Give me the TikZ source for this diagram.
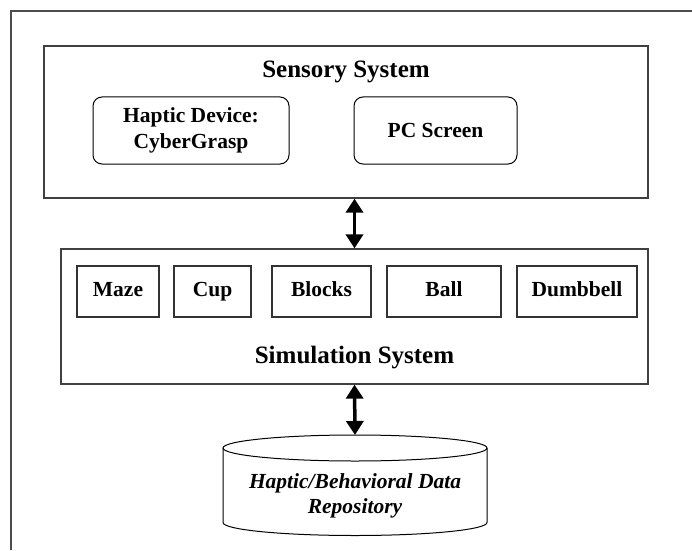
\documentclass[tikz,border=0pt]{standalone}
\usepackage{fontspec}
\setmainfont{Liberation Serif}
\usetikzlibrary{arrows.meta}
\tikzset{
  sysbox/.style={draw=black!75, line width=1.3pt},
  systitle/.style={font=\fontsize{25}{28}\selectfont\bfseries, anchor=base},
  devbox/.style={draw, line width=1pt, rounded corners=9pt, minimum height=67pt,
    align=center, font=\fontsize{21.5}{26}\selectfont\bfseries},
  objbox/.style={draw=black!80, line width=1.1pt, minimum height=51pt, inner sep=0pt,
    text height=15pt, text depth=6pt, font=\fontsize{21.5}{26}\selectfont\bfseries},
  dbtext/.style={align=center, font=\fontsize{21.5}{25}\selectfont\bfseries\itshape},
  link/.style={line width=3.5pt,
    {Triangle[width=17pt,length=14pt]}-{Triangle[width=17pt,length=14pt]}}
}
\begin{document}
\begin{tikzpicture}[x=1pt,y=1pt]
  \useasboundingbox (0,0) rectangle (692,550);
  \draw[black!70, line width=1.5pt] (11,0) -- (11,539) -- (692,539);
  % sensory system
  \node[sysbox, minimum width=604pt, minimum height=152pt] (sensory) at (346,428) {};
  \node[systitle] (sensorytitle) at (346,472.5) {Sensory System};
  \node[devbox, minimum width=196pt] (haptic) at (191,419.5) {Haptic Device:\\CyberGrasp};
  \node[devbox, minimum width=163pt] (screen) at (435.5,419.5) {PC Screen};
  % simulation system
  \node[sysbox, minimum width=587pt, minimum height=135pt] (simulation) at (354.5,233.5) {};
  \node[systitle] (simtitle) at (354.5,187) {Simulation System};
  \foreach[count=\i] \v/\x/\w in {Maze/118/82,Cup/212.5/77,Blocks/321.5/99,Ball/444/114,Dumbbell/577/120} {
    \node[objbox, minimum width=\w pt] (obj\i) at (\x,258.5) {\v};
  }
  % data repository
  \node[dbtext] (repo) at (355,54) {Haptic/Behavioral Data\\Repository};
  \coordinate (dbtop) at (355,115);
  \draw[line width=1pt] (223,102) -- (223,27.5) arc[start angle=180,end angle=360,x radius=132,y radius=13]
    -- (487,102);
  \draw[line width=1pt] (355,102) ellipse[x radius=132,y radius=13];
  \draw[link] (sensory.south -| simulation.north) -- (simulation.north);
  \draw[link] (simulation.south) -- (dbtop);
\end{tikzpicture}
\end{document}
